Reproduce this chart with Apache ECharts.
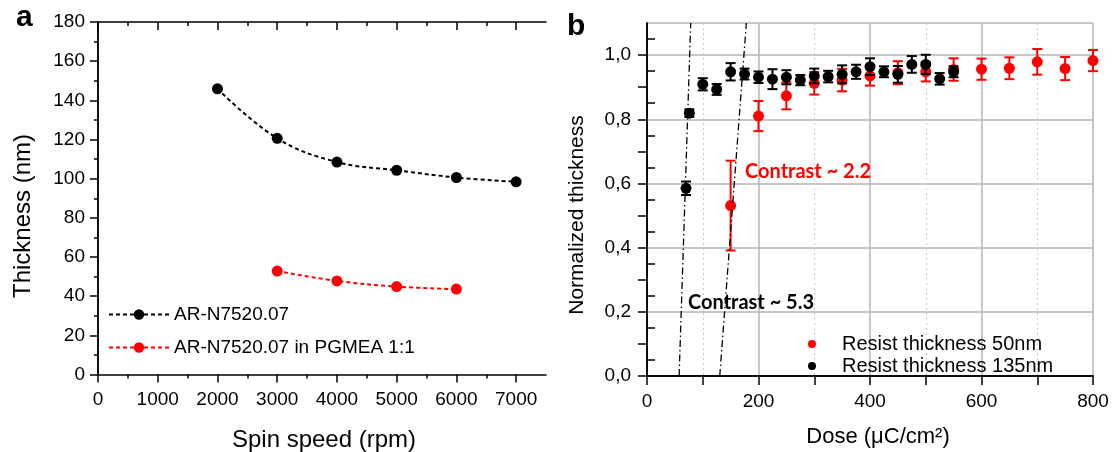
<!DOCTYPE html>
<html>
<head>
<meta charset="utf-8">
<script src="https://cdn.jsdelivr.net/npm/echarts@6/dist/echarts.min.js"></script>
<style>html,body{margin:0;padding:0;background:#fff}#c{width:1113px;height:452px}</style>
</head>
<body>
<div id="c"></div>
<script>
// ---- Panel a data ----
const spinBlack = [2000, 3000, 4000, 5000, 6000, 7000];
const thickBlack = [145.9, 120.6, 108.5, 104.3, 100.6, 98.4];
const spinRed = [3000, 4000, 5000, 6000];
const thickRed = [52.8, 47.8, 44.9, 43.6];
const spinMajorTicks = [0, 1000, 2000, 3000, 4000, 5000, 6000, 7000];
const spinMinorTicks = [500, 1500, 2500, 3500, 4500, 5500, 6500];

// ---- Panel b data ----
const redDose = [150, 200, 250, 300, 350, 400, 450, 500, 550, 600, 650, 700, 750, 800];
const redNorm = [0.531, 0.810, 0.873, 0.912, 0.922, 0.935, 0.945, 0.948, 0.955, 0.956, 0.959, 0.979, 0.958, 0.983];
const redErr  = [0.14, 0.047, 0.042, 0.035, 0.035, 0.03, 0.036, 0.03, 0.035, 0.033, 0.034, 0.04, 0.036, 0.033];
const blackDose = [70, 76, 100, 125, 150, 175, 200, 225, 250, 275, 300, 325, 350, 375, 400, 425, 450, 475, 500, 525, 550];
const blackNorm = [0.585, 0.819, 0.909, 0.893, 0.948, 0.941, 0.931, 0.925, 0.931, 0.922, 0.935, 0.933, 0.940, 0.948, 0.964, 0.948, 0.940, 0.971, 0.971, 0.926, 0.948];
const blackErr  = [0.021, 0.012, 0.019, 0.017, 0.027, 0.017, 0.018, 0.031, 0.022, 0.016, 0.023, 0.018, 0.028, 0.022, 0.026, 0.017, 0.026, 0.026, 0.030, 0.018, 0.017];
const fit1Dose = [57.6, 78.4];
const fit2Dose = [130.5, 178.2];
const fitNorm = [0, 1.1];
const normMinorTicks = [0.1, 0.3, 0.5, 0.7, 0.9];
const normRightTicks = [0.05, 0.15, 0.25, 0.35, 0.45, 0.55, 0.65, 0.75, 0.85, 0.95, 1.05];

const FONT = "'Liberation Sans', Arial, sans-serif";
const chart = echarts.init(document.getElementById('c'), null, {renderer: 'canvas'});

const zip = (a, b) => a.map((v, i) => [v, b[i]]);
const zip3 = (a, b, c) => a.map((v, i) => [v, b[i], c[i]]);

function errRender(color) {
  return function (params, api) {
    const x = api.value(0), y = api.value(1), e = api.value(2);
    const top = api.coord([x, y + e]);
    const bot = api.coord([x, y - e]);
    const hw = 5;
    const style = {stroke: color, lineWidth: 2};
    return {type: 'group', children: [
      {type: 'line', shape: {x1: top[0], y1: top[1], x2: bot[0], y2: bot[1]}, style: style},
      {type: 'line', shape: {x1: top[0] - hw, y1: top[1], x2: top[0] + hw, y2: top[1]}, style: style},
      {type: 'line', shape: {x1: bot[0] - hw, y1: bot[1], x2: bot[0] + hw, y2: bot[1]}, style: style}
    ]};
  };
}

const axLine = {show: true, lineStyle: {color: '#000', width: 1.5}};
const tickStyle = {color: '#000', width: 1.5};
const lbl = {color: '#000', fontSize: 19, fontFamily: FONT};

const option = {
  animation: false,
  backgroundColor: '#fff',
  grid: [
    {left: 98, right: 567, top: 22, bottom: 77.5},
    {left: 647, right: 20, top: 23, bottom: 76}
  ],
  xAxis: [
    {type: 'value', gridIndex: 0, position: 'bottom', min: 0, max: 7500, interval: 1000,
     axisLine: axLine,
     axisTick: {show: true, inside: false, length: 8, lineStyle: tickStyle, customValues: spinMajorTicks},
     axisLabel: Object.assign({margin: 16, customValues: spinMajorTicks, formatter: v => String(v)}, lbl),
     splitLine: {show: false}},
    {type: 'value', gridIndex: 0, position: 'bottom', min: 0, max: 7500, interval: 500,
     axisLine: {show: false},
     axisTick: {show: true, inside: false, length: 4, lineStyle: tickStyle, customValues: spinMinorTicks},
     axisLabel: {show: false}, splitLine: {show: false}},
    {type: 'value', gridIndex: 0, position: 'top', min: 0, max: 7500, interval: 1000,
     axisLine: axLine,
     axisTick: {show: true, inside: true, length: 8, lineStyle: tickStyle, customValues: spinMajorTicks},
     axisLabel: {show: false}, splitLine: {show: false}},
    {type: 'value', gridIndex: 0, position: 'top', min: 0, max: 7500, interval: 500,
     axisLine: {show: false},
     axisTick: {show: true, inside: true, length: 4, lineStyle: tickStyle, customValues: spinMinorTicks},
     axisLabel: {show: false}, splitLine: {show: false}},
    {type: 'value', gridIndex: 1, position: 'bottom', min: 0, max: 800, interval: 200,
     axisLine: axLine,
     axisTick: {show: true, inside: false, length: 9, lineStyle: tickStyle},
     minorTick: {show: true, splitNumber: 2, length: 9, lineStyle: tickStyle},
     axisLabel: Object.assign({margin: 16}, lbl),
     splitLine: {show: true, lineStyle: {color: '#b4b4b4', width: 1.5}},
     minorSplitLine: {show: true, lineStyle: {color: '#c8c8c8', width: 1, type: [2, 3]}}},
    {type: 'value', gridIndex: 1, position: 'top', min: 0, max: 800, interval: 200,
     axisLine: axLine,
     axisTick: {show: true, inside: true, length: 8, lineStyle: tickStyle},
     minorTick: {show: true, splitNumber: 2, length: 8, lineStyle: tickStyle},
     axisLabel: {show: false}, splitLine: {show: false}}
  ],
  yAxis: [
    {type: 'value', gridIndex: 0, position: 'left', min: 0, max: 180, interval: 20,
     axisLine: axLine,
     axisTick: {show: true, inside: false, length: 8, lineStyle: tickStyle},
     minorTick: {show: true, splitNumber: 2, length: 4, lineStyle: tickStyle},
     axisLabel: Object.assign({margin: 13}, lbl),
     splitLine: {show: false}},
    {type: 'value', gridIndex: 0, position: 'right', min: 0, max: 180, interval: 20,
     axisLine: axLine,
     axisTick: {show: true, inside: true, length: 8, lineStyle: tickStyle},
     minorTick: {show: true, splitNumber: 2, length: 4, lineStyle: tickStyle},
     axisLabel: {show: false}, splitLine: {show: false}},
    {type: 'value', gridIndex: 1, position: 'left', min: 0, max: 1.1, interval: 0.2,
     axisLine: axLine,
     axisTick: {show: true, inside: false, length: 9, lineStyle: tickStyle},
     axisLabel: Object.assign({margin: 16, showMaxLabel: false,
       formatter: v => (Math.abs(v - 1.1) < 1e-6 ? '' : v.toFixed(1).replace('.', ','))}, lbl),
     splitLine: {show: true, lineStyle: {color: '#b4b4b4', width: 1.5}}},
    {type: 'value', gridIndex: 1, position: 'right', min: 0, max: 1.1, interval: 0.2,
     axisLine: axLine,
     axisTick: {show: true, inside: false, length: 8, lineStyle: tickStyle, customValues: normRightTicks},
     axisLabel: {show: false}, splitLine: {show: false}},
    {type: 'value', gridIndex: 1, position: 'left', min: 0, max: 1.1, interval: 0.2,
     axisLine: {show: false},
     axisTick: {show: true, inside: false, length: 9, lineStyle: tickStyle, customValues: normMinorTicks},
     axisLabel: {show: false}, splitLine: {show: false}}
  ],
  legend: [
    {data: ['AR-N7520.07', 'AR-N7520.07 in PGMEA 1:1'], orient: 'vertical', left: 103, top: 300,
     itemWidth: 60, itemHeight: 13, itemGap: 14,
     textStyle: {fontSize: 19, color: '#000', fontFamily: FONT}},
    {data: ['Resist thickness 50nm', 'Resist thickness 135nm'], orient: 'vertical', left: 803, top: 329,
     icon: 'circle', itemWidth: 8, itemHeight: 8, itemGap: 2,
     textStyle: {fontSize: 20, color: '#000', fontFamily: FONT, padding: [0, 0, 0, 21]}}
  ],
  series: [
    {name: 'AR-N7520.07', type: 'line', xAxisIndex: 0, yAxisIndex: 0, data: zip(spinBlack, thickBlack),
     smooth: 0.4, symbol: 'circle', symbolSize: 11, showSymbol: true,
     lineStyle: {color: '#000', width: 2, type: [4, 3]}, itemStyle: {color: '#000'}},
    {name: 'AR-N7520.07 in PGMEA 1:1', type: 'line', xAxisIndex: 0, yAxisIndex: 0, data: zip(spinRed, thickRed),
     smooth: 0.4, symbol: 'circle', symbolSize: 11, showSymbol: true,
     lineStyle: {color: '#ff0000', width: 2, type: [4, 3]}, itemStyle: {color: '#ff0000'}},
    {type: 'custom', xAxisIndex: 4, yAxisIndex: 2, renderItem: errRender('#ff0000'),
     data: zip3(redDose, redNorm, redErr), encode: {x: 0, y: 1}, silent: true, z: 2},
    {name: 'Resist thickness 50nm', type: 'scatter', xAxisIndex: 4, yAxisIndex: 2,
     data: zip(redDose, redNorm), symbolSize: 11, itemStyle: {color: '#ff0000', opacity: 1}, z: 3, clip: false},
    {type: 'line', xAxisIndex: 4, yAxisIndex: 2, data: zip(fit1Dose, fitNorm), showSymbol: false, symbol: 'none',
     lineStyle: {color: '#000', width: 1.3, type: [7, 3, 1.5, 3]}, silent: true, z: 4},
    {type: 'line', xAxisIndex: 4, yAxisIndex: 2, data: zip(fit2Dose, fitNorm), showSymbol: false, symbol: 'none',
     lineStyle: {color: '#000', width: 1.3, type: [7, 3, 1.5, 3]}, silent: true, z: 4},
    {type: 'custom', xAxisIndex: 4, yAxisIndex: 2, renderItem: errRender('#000'),
     data: zip3(blackDose, blackNorm, blackErr), encode: {x: 0, y: 1}, silent: true, z: 5},
    {name: 'Resist thickness 135nm', type: 'scatter', xAxisIndex: 4, yAxisIndex: 2,
     data: zip(blackDose, blackNorm), symbolSize: 11, itemStyle: {color: '#000', opacity: 1}, z: 6}
  ],
  graphic: [
    {type: 'text', x: 16, y: 18, style: {text: 'a', fontSize: 30, fontWeight: 'bold', fontFamily: FONT, fill: '#000', align: 'left', verticalAlign: 'middle'}},
    {type: 'text', x: 567, y: 27, style: {text: 'b', fontSize: 30, fontWeight: 'bold', fontFamily: FONT, fill: '#000', align: 'left', verticalAlign: 'middle'}},
    {type: 'text', x: 23, y: 216, rotation: Math.PI / 2, style: {text: 'Thickness (nm)', fontSize: 24, fontFamily: FONT, fill: '#000', align: 'center', verticalAlign: 'middle'}},
    {type: 'text', x: 324, y: 440, style: {text: 'Spin speed (rpm)', fontSize: 24, fontFamily: FONT, fill: '#000', align: 'center', verticalAlign: 'middle'}},
    {type: 'text', x: 577, y: 215, rotation: Math.PI / 2, style: {text: 'Normalized thickness', fontSize: 21, fontFamily: FONT, fill: '#000', align: 'center', verticalAlign: 'middle'}},
    {type: 'text', x: 878, y: 437, style: {text: 'Dose (μC/cm²)', fontSize: 22, fontFamily: FONT, fill: '#000', align: 'center', verticalAlign: 'middle'}},
    {type: 'text', x: 745, y: 172, z: 10, style: {text: 'Contrast ~ 2.2', fontSize: 20, fontWeight: 'bold', fontFamily: 'Lato, "Open Sans", sans-serif', fill: '#ff0000', align: 'left', verticalAlign: 'middle'}},
    {type: 'text', x: 688, y: 303, z: 10, style: {text: 'Contrast ~ 5.3', fontSize: 20, fontWeight: 'bold', fontFamily: 'Lato, "Open Sans", sans-serif', fill: '#000', align: 'left', verticalAlign: 'middle'}}
  ]
};
chart.setOption(option);
</script>
</body>
</html>
